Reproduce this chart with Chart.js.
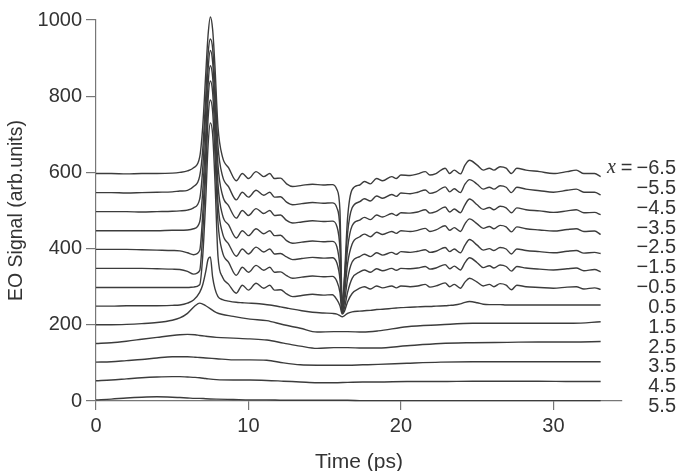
<!DOCTYPE html>
<html>
<head>
<meta charset="utf-8">
<script src="https://cdn.jsdelivr.net/npm/chart.js@4.4.1/dist/chart.umd.min.js"></script>
<style>
html,body{margin:0;padding:0;background:#fff;}
#c{display:block;}
</style>
</head>
<body>
<canvas id="c" width="679" height="471"></canvas>
<script>
// ---- data ----
const positions = [-6.5, -5.5, -4.5, -3.5, -2.5, -1.5, -0.5, 0.5, 1.5, 2.5, 3.5, 4.5, 5.5];

const tFine = [0,1,2,3,4,5,5.5, 6,6.4,6.8, 7.0,7.2,7.35,7.5,7.65,7.8,8.0, 8.3,8.7,9.2,
  9.6,10.0,10.5,11.0,11.4,11.7,12.1, 12.5,12.9,13.5,14.2,14.9,15.5, 15.8,16.0,16.15,16.3,16.5,16.8,
  17.3,17.6,18.0,18.4,18.8,19.4,19.7,20.0,20.6,21.1,21.6,21.9,22.3,22.9,23.2,23.5,23.9,24.2,24.5,
  25.0,25.4,25.8,26.1,26.5,26.9,27.25,27.6,28.2,29.1,30.0,30.9,31.5,32.0,32.7,33.1];

const tCoarse = [0,1,2,3,4,5,5.5,6,6.5,6.8,7.2,7.9,9,10.1,11.2,12.3,13.4,14.5,15.6,16.5,17.5,18.5,20.4,22.6,24.7,27,29,31.3,33.1];

const sM65 = [597,597,596,597,597,598,600, 604,612,640, 720,860,960,1008,975,880,720, 640,612,578,
  597,584,602,589,597,584,585, 570,563,566,569,567,568, 555,500,250,330,480,555,
  567,576,570,584,578,589,584,593,592,596,602,593,597,611,597,606,596,619,632,619,606,611,606,615,611,597,611,606,602,597,602,606,597,597,589];
const sM55 = [547,547,546,547,548,549,551, 553,563,590, 660,800,910,950,925,830,670, 590,562,528,
  548,535,553,540,548,535,536, 522,515,518,521,519,520, 507,450,245,320,440,507,
  523,531,525,538,532,542,537,546,544,548,554,545,549,562,549,557,547,569,581,569,556,561,556,565,561,547,561,556,552,548,553,556,548,548,541];
const sM45 = [497,497,497,496,497,498,499, 501,507,530, 610,760,870,920,890,790,620, 540,512,480,
  500,487,505,492,500,487,488, 474,467,470,473,471,472, 458,400,240,300,400,460,
  475,482,476,488,483,492,487,494,493,496,502,493,497,509,496,504,494,515,530,515,503,508,502,511,507,494,507,502,499,495,499,502,494,495,489];
const sM35 = [447,447,447,447,447,448,448, 449,452,470, 550,700,830,880,850,750,570, 488,462,428,
  447,434,452,439,447,434,435, 421,414,417,420,418,419, 405,350,236,280,360,412,
  431,438,431,443,437,445,440,447,445,448,453,445,449,460,448,455,445,465,478,465,453,458,452,461,457,444,457,452,449,446,450,452,445,446,437];
const sM25 = [398,398,398,397,396,395,394, 389,384,395, 490,650,790,840,810,700,520, 440,412,380,
  399,386,404,391,399,386,387, 378,371,374,377,375,376, 362,320,232,260,320,365,
  379,385,379,389,383,390,385,392,390,393,397,390,393,403,392,399,389,409,424,409,396,400,395,403,399,386,399,395,392,389,393,395,388,390,387];
const sM15 = [348,348,348,348,347,346,345, 340,333,342, 440,600,740,790,760,650,470, 390,364,330,
  351,338,356,343,351,338,339, 329,322,325,328,326,327, 314,285,230,245,285,322,
  339,344,338,347,342,348,343,348,347,349,353,346,349,358,347,354,344,363,376,363,350,355,349,357,353,341,353,349,346,344,347,349,342,345,339];
const sM05 = [298,298,298,298,298,298,298, 298,299,305, 380,530,670,730,700,580,380, 325,306,283,
  304,291,309,296,304,291,292, 281,274,277,280,278,279, 266,250,228,236,260,282,
  296,300,294,302,297,302,297,302,300,302,306,299,302,310,300,306,296,312,322,312,302,306,300,308,304,292,304,300,298,296,299,300,294,297,293];
const sP05 = [249,249,250,250,250,251,252, 257,265,285, 305,340,372,378,325,295,274, 266,262,259,
  258,257,256,254,252,250,247, 244,241,237,233,231,230, 228,224,221,224,230,234,
  236,237,238,240,241,243,244,245,246,247,248,248,249,250,251,252,255,259,261,258,254,253,253,253,252,252,252,252,252,252,252,252,252,252,252];

const sP15 = [200,200,201,203,206,212,218,230,250,257,250,232,222,215,211,200,191,181,182,182,181,184,195,200,204,204,204,204,208];
const sP25 = [151,153,157,162,167,172,174,175,174,172,170,167,165,163,160,152,144,138,140,140,139,139,145,151,153,154,155,155,156];
const sP35 = [102,103,106,109,113,116,116,116,115,114,113,111,108,108,107,100,95,94,94,94,95,96,99,102,103,103,103,103,103];
const sP45 = [53,55,58,61,63,64,64,63,62,61,59,56,55,55,54,52,50,48,48,49,50,50,51,51,52,52,52,51,51];
const sP55 = [3,5,8,10,11,10,9,8,7,7,6,5,4,3,3,2,2,2,2,2,1,1,1,1,1,1,1,1,1];

const xTicks = [0, 10, 20, 30];
const yTicks = [0, 200, 400, 600, 800, 1000];

// ---- build ----
const fineSeries = [sM65, sM55, sM45, sM35, sM25, sM15, sM05, sP05];
const coarseSeries = [sP15, sP25, sP35, sP45, sP55];
const FAMILY = '"Liberation Sans", Arial, Helvetica, sans-serif';
const LINE = '#3c3c3c';

function toPts(ts, vs){ return ts.map((t,i)=>({x:t, y:vs[i]})); }
const datasets = [];
fineSeries.forEach(s => datasets.push({data: toPts(tFine, s)}));
coarseSeries.forEach(s => datasets.push({data: toPts(tCoarse, s)}));
datasets.forEach(d => Object.assign(d, {
  borderColor: LINE, borderWidth: 1.4, pointRadius: 0, fill: false,
  cubicInterpolationMode: 'monotone', clip: false
}));

function fmt(v){ return (v < 0 ? '\u2212' : '') + Math.abs(v).toFixed(1); }

const labelPlugin = {
  id: 'posLabels',
  afterDatasetsDraw(chart){
    const {ctx, chartArea} = chart;
    const y = chart.scales.y;
    const ds = chart.data.datasets;
    const endOf = d => d.data[d.data.length-1].y;
    const first = y.getPixelForValue(endOf(ds[0])) - 8;
    const last = y.getPixelForValue(endOf(ds[ds.length-1])) + 6;
    const step = (last - first) / (ds.length - 1);
    const xr = chartArea.right + 54;
    ctx.save();
    ctx.fillStyle = '#333';
    ctx.textBaseline = 'middle';
    ctx.textAlign = 'right';
    positions.forEach((p, i) => {
      const yy = first + step * i;
      ctx.font = '20px ' + FAMILY;
      const txt = fmt(p);
      ctx.fillText(txt, xr, yy);
      if (i === 0) {
        const w = ctx.measureText(txt).width;
        ctx.fillText('=', xr - w - 4, yy);
        const we = ctx.measureText('=').width;
        ctx.font = 'italic 20px "Liberation Serif", "Times New Roman", serif';
        ctx.fillText('x', xr - w - 4 - we - 5, yy - 1);
      }
    });
    ctx.restore();
  }
};

new Chart(document.getElementById('c'), {
  type: 'line',
  data: { datasets },
  options: {
    responsive: false,
    animation: false,
    events: [],
    layout: { padding: { top: 20, right: 57, left: 0, bottom: 0 } },
    plugins: { legend: { display: false }, tooltip: { enabled: false } },
    scales: {
      x: {
        type: 'linear', min: 0, max: 34.5,
        afterBuildTicks: s => { s.ticks = xTicks.map(v => ({value: v})); },
        afterFit: s => { s.height = 70; },
        grid: { drawOnChartArea: false, drawTicks: true, tickLength: 9, color: '#777', lineWidth: 1.2 },
        border: { display: true, color: '#777', width: 1.2 },
        ticks: { color: '#333', font: { size: 20, family: FAMILY }, padding: 4, maxRotation: 0, autoSkip: false,
                 callback: v => String(v) },
        title: { display: true, text: 'Time (ps)', color: '#333', font: { size: 21, family: FAMILY, lineHeight: 0.8 }, padding: 0 }
      },
      y: {
        type: 'linear', min: 0, max: 1000,
        afterBuildTicks: s => { s.ticks = yTicks.map(v => ({value: v})); },
        afterFit: s => { s.width = 96; },
        grid: { drawOnChartArea: false, drawTicks: true, tickLength: 10, color: '#777', lineWidth: 1.2 },
        border: { display: true, color: '#777', width: 1.2 },
        ticks: { color: '#333', font: { size: 20, family: FAMILY }, padding: 4, callback: v => String(v) },
        title: { display: true, text: 'EO Signal (arb.units)', color: '#333', font: { size: 19.5, family: FAMILY, lineHeight: 1.2 }, padding: { top: 5, bottom: 0 } }
      }
    }
  },
  plugins: [labelPlugin]
});
</script>
</body>
</html>
